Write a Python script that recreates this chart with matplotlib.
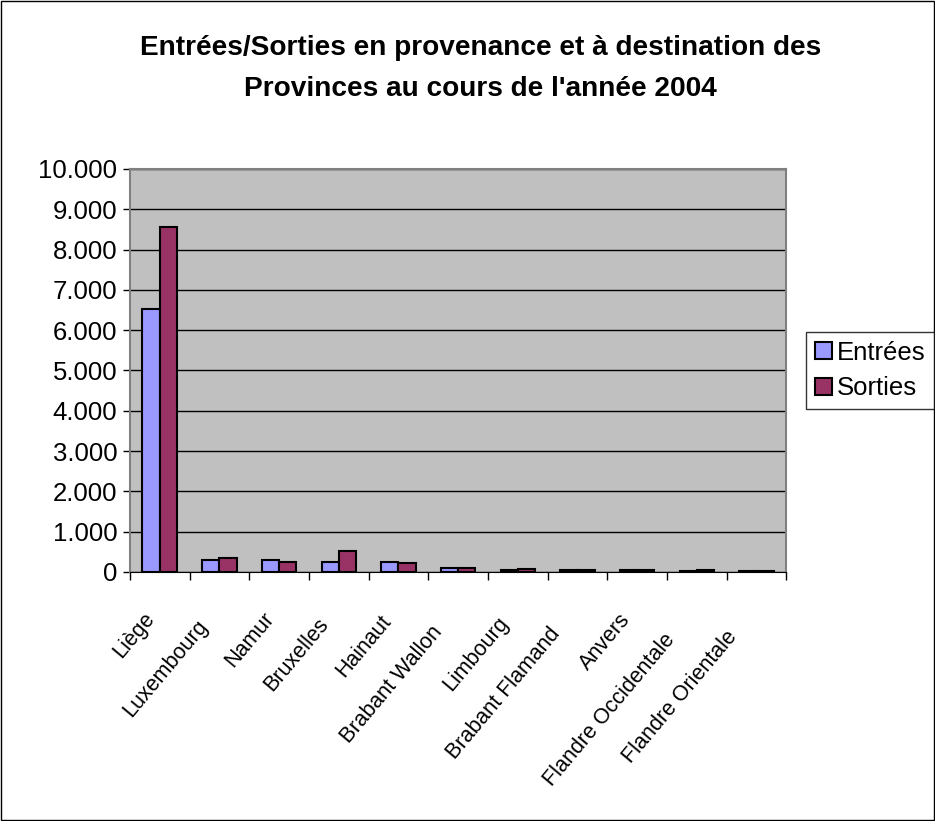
import numpy as np
import matplotlib
matplotlib.use('Agg')
import matplotlib.pyplot as plt
import matplotlib.transforms as mtransforms
from matplotlib.ticker import FuncFormatter, MultipleLocator
from matplotlib.patches import Rectangle

plt.rcParams['font.family'] = ['Liberation Sans', 'DejaVu Sans']

provinces = ['Liège', 'Luxembourg', 'Namur', 'Bruxelles', 'Hainaut', 'Brabant Wallon',
             'Limbourg', 'Brabant Flamand', 'Anvers', 'Flandre Occidentale', 'Flandre Orientale']
entrees = [6520, 300, 300, 260, 240, 100, 60, 40, 40, 30, 15]
sorties = [8550, 340, 250, 530, 220, 90, 70, 60, 60, 50, 25]

fig = plt.figure(figsize=(9.35, 8.21), dpi=100)
ax = fig.add_axes([0.139, 0.3033, 0.702, 0.491])

x = np.arange(len(provinces))
w = 0.29
ax.bar(x - w / 2, entrees, w, color='#9999FF', edgecolor='black', linewidth=1.5, label='Entrées', zorder=3)
ax.bar(x + w / 2, sorties, w, color='#993366', edgecolor='black', linewidth=1.5, label='Sorties', zorder=3)

ax.set_facecolor('#C0C0C0')
ax.set_xlim(-0.5, len(provinces) - 0.5)
ax.set_ylim(0, 10000)
ax.yaxis.set_major_locator(MultipleLocator(1000))
ax.yaxis.set_major_formatter(FuncFormatter(lambda v, p: '{:,.0f}'.format(v).replace(',', '.')))
ax.grid(axis='y', color='black', linewidth=1, zorder=1)

ax.set_xticks(x)
ax.set_xticklabels(provinces, rotation=50, ha='right', va='center', rotation_mode='anchor')
ax.set_xticks(np.arange(-0.5, len(provinces)), minor=True)
ax.tick_params(axis='x', which='major', length=0, pad=0, labelsize=15.5)
ax.tick_params(axis='x', which='minor', length=6, width=1)
ax.tick_params(axis='y', length=5, width=1, labelsize=18.5, pad=4)

# longer labels sit a bit further down-left, like in the original
for lbl, name in zip(ax.get_xticklabels(), provinces):
    n = len(name) - 5
    dx = -9 - 1.2 * n
    dy = -43 - 1.5 * n
    lbl.set_transform(lbl.get_transform() + mtransforms.ScaledTranslation(dx / 100, dy / 100, fig.dpi_scale_trans))

for s in ['top', 'right', 'left']:
    ax.spines[s].set_color('#808080')
    ax.spines[s].set_linewidth(1.5)
ax.spines['bottom'].set_color('black')

fig.text(0.514, 0.917, "Entrées/Sorties en provenance et à destination des\nProvinces au cours de l'année 2004",
         ha='center', va='center', fontsize=20.2, fontweight='bold', linespacing=1.75)

fig.legend(loc='upper left', bbox_to_anchor=(0.862, 0.596), fontsize=18.5, frameon=True,
           fancybox=False, edgecolor='black', handlelength=0.65, handleheight=0.65,
           handletextpad=0.2, borderpad=0.35, labelspacing=0.45, borderaxespad=0)

fig.patches.append(Rectangle((0.001, 0.001), 0.998, 0.998, transform=fig.transFigure,
                             fill=False, edgecolor='black', linewidth=1))

plt.savefig('out.png', dpi=100)
